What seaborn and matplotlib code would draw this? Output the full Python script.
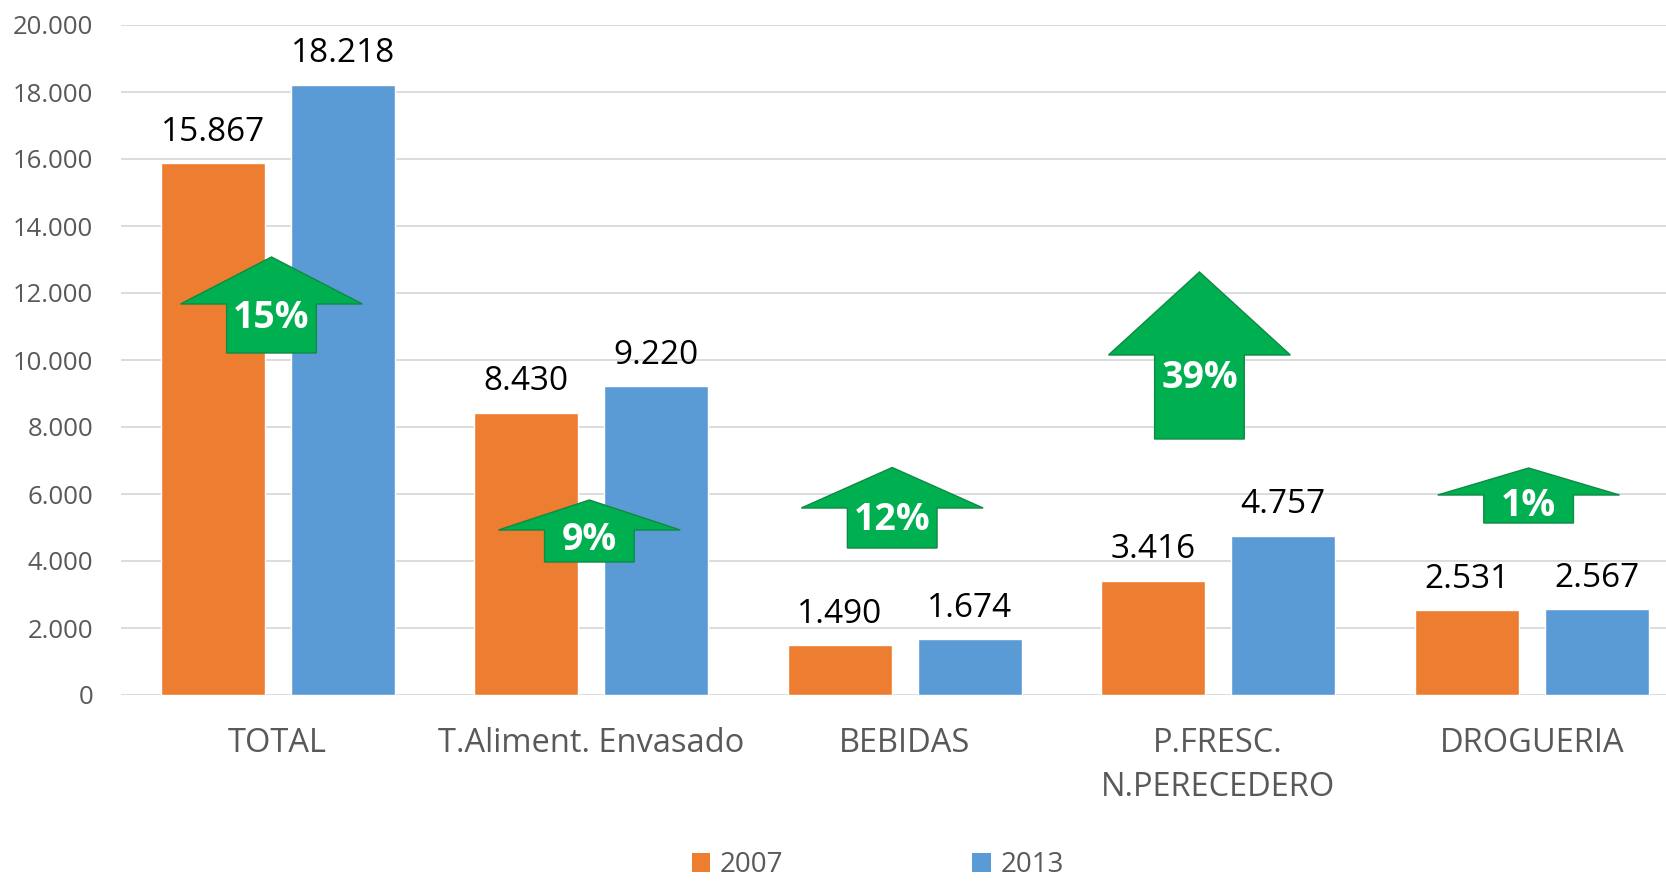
import matplotlib
matplotlib.use("Agg")
import matplotlib.pyplot as plt
from matplotlib.patches import Polygon, Patch
import seaborn as sns
import pandas as pd

# ---- data ----
categories = ["TOTAL", "T.Aliment. Envasado", "BEBIDAS", "P.FRESC.\nN.PERECEDERO", "DROGUERIA"]
years = ["2007", "2013"]
values_2007 = [15867, 8430, 1490, 3416, 2531]
values_2013 = [18218, 9220, 1674, 4757, 2567]
growth_labels = ["15%", "9%", "12%", "39%", "1%"]
y_ticks = [0, 2000, 4000, 6000, 8000, 10000, 12000, 14000, 16000, 18000, 20000]

# ---- styling ----
sns.set_style("white")
plt.rcParams['font.family'] = ['Open Sans', 'DejaVu Sans']
ORANGE = "#ED7D31"
BLUE = "#5B9BD5"
GREEN = "#00B050"
GREEN_EDGE = "#0E8A43"
GRID = "#D9D9D9"
GRAY = "#595959"

df = pd.DataFrame({
    "cat": categories * 2,
    "year": [years[0]] * len(categories) + [years[1]] * len(categories),
    "val": values_2007 + values_2013,
})

W, H = 1666, 883
fig = plt.figure(figsize=(W / 100, H / 100), dpi=100)
ax = fig.add_axes([121 / W, 188 / H, 1545 / W, 670 / H])

sns.barplot(data=df, x="cat", y="val", hue="year", palette=[ORANGE, BLUE],
            width=0.83, gap=0.2, ax=ax, legend=False, saturation=1, errorbar=None)

ax.set_xlim(-0.5, -0.5 + 1545 / 313.5)
ax.set_ylim(0, 20000)
ax.set_yticks(y_ticks)
ax.set_yticklabels([f"{t:,}".replace(",", ".") for t in y_ticks], fontsize=18.5, color=GRAY)
ax.tick_params(axis="y", length=0, pad=20)
ax.tick_params(axis="x", length=0, pad=23, labelsize=23.5, labelcolor=GRAY)
for lbl in ax.get_xticklabels():
    lbl.set_linespacing(1.45)
ax.set_xlabel("")
ax.set_ylabel("")
ax.grid(axis="y", color=GRID, linewidth=1.3)
ax.set_axisbelow(True)
for s in ax.spines.values():
    s.set_visible(False)

# value labels
for cont in ax.containers:
    for bar in cont:
        h = bar.get_height()
        ax.annotate(f"{int(round(h)):,}".replace(",", "."),
                    (bar.get_x() + bar.get_width() / 2, h),
                    xytext=(0, 16), textcoords="offset points",
                    ha="center", va="baseline", fontsize=24, color="black")

# growth arrows: (x offset, tip, head base, shaft bottom, text y)
arrow_geo = [
    (-0.02, 13075, 11672, 10209, 11250),
    (-0.006, 5821, 4925, 3970, 4620),
    (-0.04, 6791, 5582, 4388, 5230),
    (-0.06, 12627, 10149, 7642, 9450),
    (-0.01, 6776, 5970, 5134, 5640),
]
HEAD_HW = 0.29
SHAFT_HW = 0.143
for i, (dx, tip, base, bottom, ty) in enumerate(arrow_geo):
    cx = i + dx
    pts = [(cx, tip), (cx + HEAD_HW, base), (cx + SHAFT_HW, base), (cx + SHAFT_HW, bottom),
           (cx - SHAFT_HW, bottom), (cx - SHAFT_HW, base), (cx - HEAD_HW, base)]
    ax.add_patch(Polygon(pts, closed=True, facecolor=GREEN, edgecolor=GREEN_EDGE,
                         linewidth=1, zorder=5))
    ax.text(cx, ty, growth_labels[i], ha="center", va="center", color="white",
            fontsize=27, fontweight="bold", zorder=6)

handles = [Patch(facecolor=ORANGE, edgecolor="none"), Patch(facecolor=BLUE, edgecolor="none")]
fig.legend(handles, years, loc="center", bbox_to_anchor=(0.527, 0.02), ncol=2,
           frameon=False, fontsize=20, labelcolor=GRAY, handlelength=0.65,
           handleheight=0.65, handletextpad=0.35, columnspacing=6.8,
           borderpad=0.1)

fig.savefig("out.png", dpi=100)
